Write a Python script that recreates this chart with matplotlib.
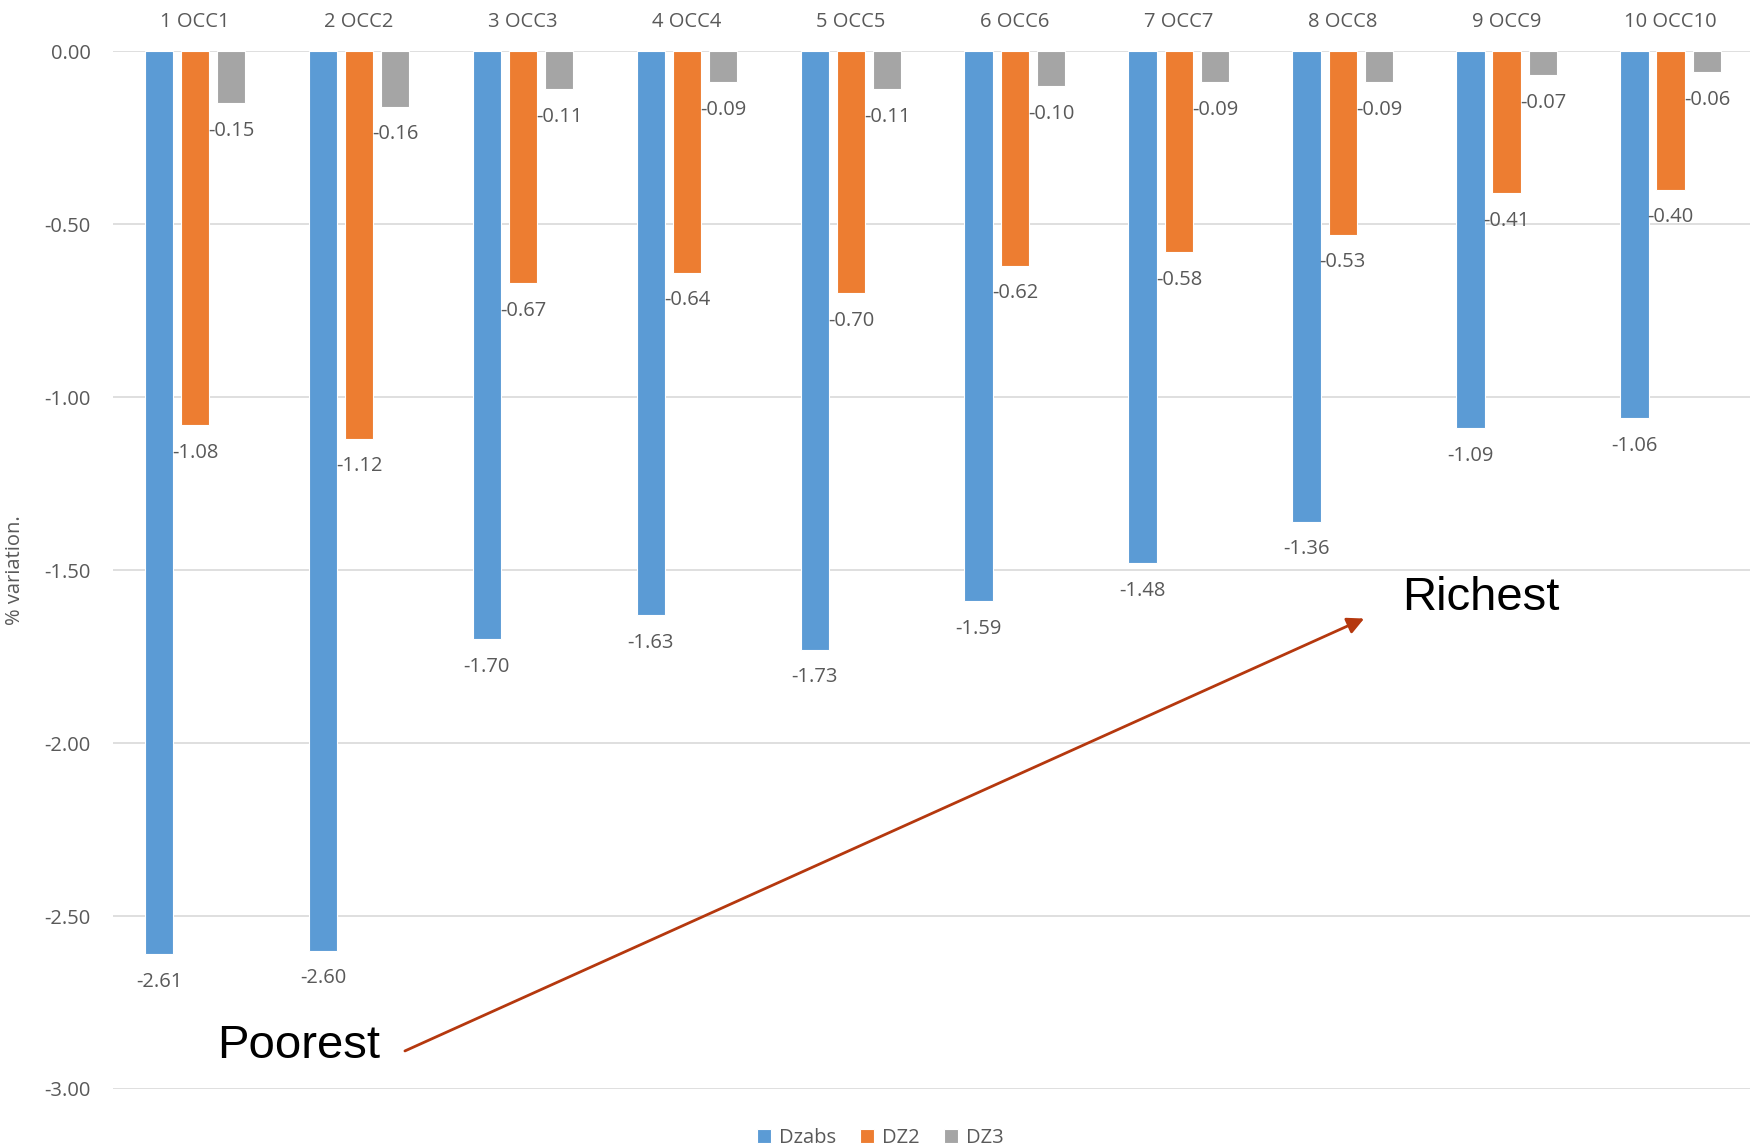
# bar chart of % variation by occupation decile
import matplotlib
matplotlib.use("Agg")
from matplotlib import pyplot as plt
import numpy as np

# categories
labels = ["1 OCC1", "2 OCC2", "3 OCC3", "4 OCC4", "5 OCC5",
          "6 OCC6", "7 OCC7", "8 OCC8", "9 OCC9", "10 OCC10"]
# series values
dzabs = [-2.61, -2.60, -1.70, -1.63, -1.73, -1.59, -1.48, -1.36, -1.09, -1.06]
dz2 = [-1.08, -1.12, -0.67, -0.64, -0.70, -0.62, -0.58, -0.53, -0.41, -0.40]
dz3 = [-0.15, -0.16, -0.11, -0.09, -0.11, -0.10, -0.09, -0.09, -0.07, -0.06]
yticks = [0.0, -0.5, -1.0, -1.5, -2.0, -2.5, -3.0]

txt = "#595959"
plt.rcParams['font.family'] = ['Open Sans', 'DejaVu Sans']

fig = plt.figure(figsize=(17.5, 11.48), dpi=100)
ax = fig.add_axes([0.0646, 0.0514, 0.937, 0.904])

x = np.arange(len(labels))
w = 0.175
step = 0.22
series = [("Dzabs", dzabs, "#5B9BD5"), ("DZ2", dz2, "#ED7D31"), ("DZ3", dz3, "#A5A5A5")]
for k, (name, vals, col) in enumerate(series):
    pos = x + (k - 1) * step
    ax.bar(pos, vals, width=w, color=col, edgecolor="white", linewidth=0.8,
           label=name, zorder=2)
    for px, v in zip(pos, vals):
        ax.annotate("%.2f" % v, (px, v), xytext=(0, -20), textcoords="offset points",
                    ha="center", va="center", fontsize=14.5, color=txt, zorder=3)

ax.set_xlim(-0.5, len(labels) - 0.5)
ax.set_ylim(-3.0, 0.0)
ax.set_yticks(yticks)
ax.set_yticklabels(["%.2f" % t for t in yticks], fontsize=14.5, color=txt)
ax.tick_params(axis="y", length=0, pad=16)
ax.xaxis.tick_top()
ax.set_xticks(x)
ax.set_xticklabels(labels, fontsize=14.5, color=txt)
ax.tick_params(axis="x", length=0, pad=14)
ax.grid(axis="y", color="#D9D9D9", linewidth=1.2, zorder=0)
ax.set_axisbelow(True)
for s in ax.spines.values():
    s.set_visible(False)
ax.set_ylabel("% variation.", fontsize=14.5, color=txt, labelpad=14)

# annotation arrow
ax.annotate("", xy=(7.13, -1.64), xytext=(1.28, -2.89),
            arrowprops=dict(arrowstyle="-|>", color="#B5380E", lw=2,
                            mutation_scale=25, shrinkA=0, shrinkB=0))
ax.text(0.63, -2.875, "Poorest", fontsize=34, family="Liberation Sans",
        ha="center", va="center", color="black")
ax.text(7.84, -1.58, "Richest", fontsize=34, family="Liberation Sans",
        ha="center", va="center", color="black")

fig.legend(loc="center", bbox_to_anchor=(0.503, 0.009), ncol=3, frameon=False,
           fontsize=14.5, labelcolor=txt, handlelength=0.7, handleheight=0.7,
           handletextpad=0.4, columnspacing=1.2)

plt.savefig("out.png", dpi=100)
